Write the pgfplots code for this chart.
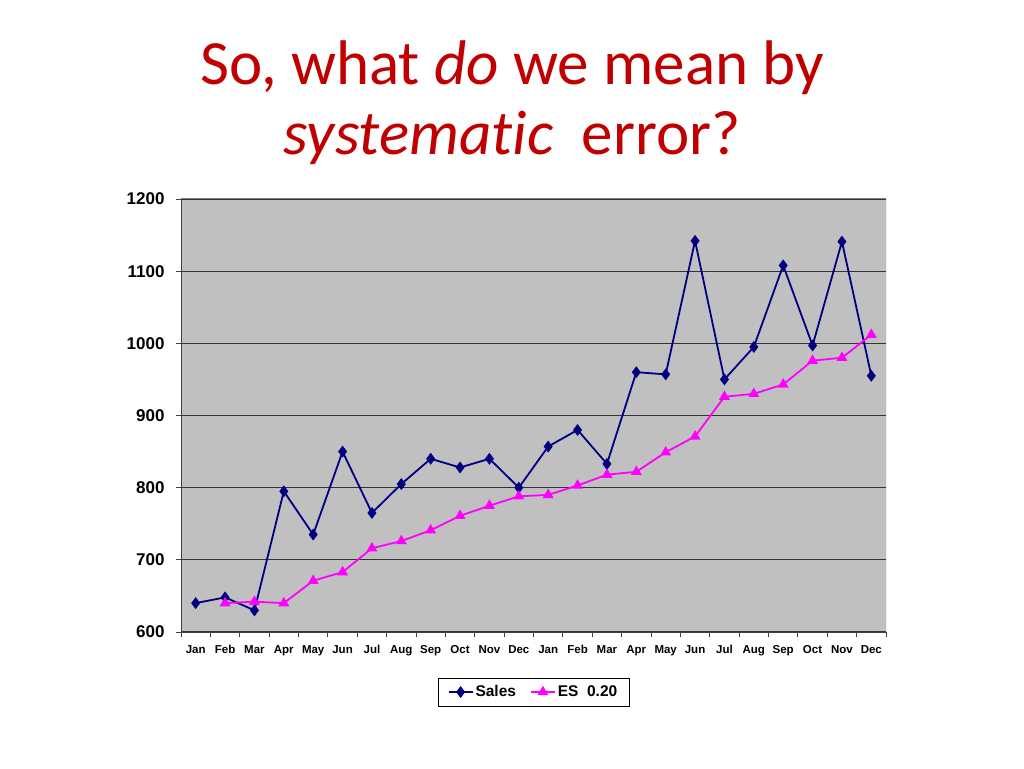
\documentclass[border=0pt]{standalone}
\usepackage{fontspec}
\setmainfont{Liberation Sans}
\newfontfamily\titlefont[Ligatures=NoCommon]{Carlito}
\usepackage{pgfplots}
\pgfplotsset{compat=1.18}
\definecolor{salesblue}{HTML}{000080}
\definecolor{esmag}{HTML}{FF00FF}
\definecolor{titlered}{HTML}{C00000}
\definecolor{plotgray}{HTML}{C0C0C0}
\begin{document}
\begin{tikzpicture}[x=1pt,y=1pt]
\path (0,0) rectangle (1024,768);
\node[anchor=base, text=titlered, font=\titlefont\fontsize{63}{70}\selectfont, inner sep=0pt] at (512,683) {So, what \textit{do} we mean by};
\node[anchor=base, text=titlered, font=\titlefont\fontsize{63}{70}\selectfont, inner sep=0pt] at (512,613) {\textit{systematic}\ \ error?};
\begin{axis}[
  at={(181pt,136pt)}, anchor=south west,
  scale only axis, width=705pt, height=433pt,
  xmin=-0.5, xmax=23.5, ymin=600, ymax=1200,
  xtick={-0.5,0.5,...,23.5},
  x tick label as interval,
  xticklabels={Jan,Feb,Mar,Apr,May,Jun,Jul,Aug,Sep,Oct,Nov,Dec,Jan,Feb,Mar,Apr,May,Jun,Jul,Aug,Sep,Oct,Nov,Dec},
  ytick={600,700,...,1200},
  ymajorgrids,
  grid style={black!80, line width=1.2pt},
  axis background/.style={fill=plotgray},
  axis x line*=bottom, axis y line*=left,
  axis line style={black!75, line width=1pt},
  tick style={black!75, line width=0.8pt},
  tick align=outside, major tick length=5pt,
  /pgf/number format/assume math mode=true,
  /pgf/number format/1000 sep={},
  yticklabel style={font=\fontsize{17}{20}\selectfont\bfseries, xshift=-8pt},
  xticklabel style={font=\fontsize{11.5}{14}\selectfont\bfseries, yshift=-5pt},
  legend image code/.code={\draw[mark repeat=2, mark phase=2, #1] plot coordinates {(0pt,0pt) (12pt,0pt) (24pt,0pt)};},
  legend style={at={(0.5,-0.1386)}, anchor=center, legend columns=2, draw=black, fill=white,
    font=\fontsize{15.5}{18}\selectfont\bfseries, inner xsep=9.5pt, inner ysep=5.5pt,
    /tikz/every even column/.append style={column sep=12pt}},
]
\draw[black!50, line width=1pt] (rel axis cs:0,1) -- (rel axis cs:1,1) -- (rel axis cs:1,0);
\addplot[salesblue, line width=1.8pt, mark=diamond*, mark size=4.5pt, mark options={fill=salesblue}] coordinates {
(0,640) (1,648) (2,630) (3,795) (4,735) (5,850) (6,765) (7,805) (8,840) (9,828) (10,840) (11,800)
(12,857) (13,880) (14,833) (15,960) (16,957) (17,1142) (18,950) (19,995) (20,1108) (21,997) (22,1141) (23,955)
};
\addlegendentry{Sales}
\addplot[esmag, line width=1.8pt, mark=triangle*, mark size=4.5pt, mark options={fill=esmag}] coordinates {
(1,640) (2,642) (3,640) (4,671) (5,683) (6,716) (7,726) (8,741) (9,761) (10,775) (11,788)
(12,790) (13,803) (14,818) (15,822) (16,849) (17,871) (18,926) (19,930) (20,943) (21,976) (22,980) (23,1012)
};
\addlegendentry{ES\ \ 0.20}
\end{axis}
\end{tikzpicture}
\end{document}
